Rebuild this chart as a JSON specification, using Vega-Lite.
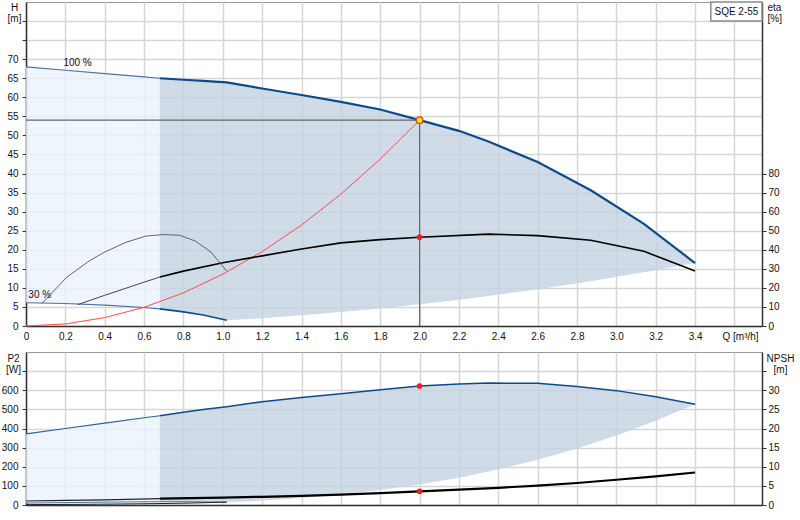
{
  "$schema": "https://vega.github.io/schema/vega-lite/v6.json",
  "padding": 0,
  "background": "white",
  "spacing": 26,
  "bounds": "flush",
  "datasets": {
    "h": [
      {"Q": 0, "top": 68.0, "bot": 6.1},
      {"Q": 0.2, "top": 67.1, "bot": 5.9},
      {"Q": 0.4, "top": 66.2, "bot": 5.5},
      {"Q": 0.6, "top": 65.35, "bot": 4.85},
      {"Q": 0.68, "top": 65.0, "bot": 4.5},
      {"Q": 0.8, "top": 64.6, "bot": 3.7},
      {"Q": 0.9, "top": 64.3, "bot": 2.9},
      {"Q": 1.02, "top": 63.9, "bot": 1.5},
      {"Q": 1.2, "top": 62.3, "bot": 2.05},
      {"Q": 1.4, "top": 60.6, "bot": 2.8},
      {"Q": 1.6, "top": 58.8, "bot": 3.65},
      {"Q": 1.8, "top": 56.8, "bot": 4.6},
      {"Q": 2.0, "top": 54.0, "bot": 5.7},
      {"Q": 2.2, "top": 51.2, "bot": 6.9},
      {"Q": 2.35, "top": 48.4, "bot": 7.9},
      {"Q": 2.6, "top": 43.0, "bot": 9.65},
      {"Q": 2.87, "top": 35.6, "bot": 11.75},
      {"Q": 3.14, "top": 26.8, "bot": 14.1},
      {"Q": 3.4, "top": 16.5, "bot": 16.5}
    ],
    "sys": [
      {"Q": 0, "H": 0}, {"Q": 0.2, "H": 0.54}, {"Q": 0.4, "H": 2.2},
      {"Q": 0.6, "H": 4.9}, {"Q": 0.8, "H": 8.7}, {"Q": 1.0, "H": 13.6},
      {"Q": 1.2, "H": 19.5}, {"Q": 1.4, "H": 26.5}, {"Q": 1.6, "H": 34.6},
      {"Q": 1.8, "H": 43.8}, {"Q": 2.0, "H": 54.0}
    ],
    "eta": [
      {"curve": "100", "Q": 0.263, "eta": 11.2},
      {"curve": "100", "Q": 0.4, "eta": 16.1},
      {"curve": "100", "Q": 0.6, "eta": 23.0},
      {"curve": "100", "Q": 0.68, "eta": 25.7},
      {"curve": "100", "Q": 0.8, "eta": 28.8},
      {"curve": "100", "Q": 1.0, "eta": 33.2},
      {"curve": "100", "Q": 1.2, "eta": 36.8},
      {"curve": "100", "Q": 1.4, "eta": 40.4},
      {"curve": "100", "Q": 1.6, "eta": 43.6},
      {"curve": "100", "Q": 1.8, "eta": 45.3},
      {"curve": "100", "Q": 2.0, "eta": 46.6},
      {"curve": "100", "Q": 2.35, "eta": 48.2},
      {"curve": "100", "Q": 2.6, "eta": 47.4},
      {"curve": "100", "Q": 2.87, "eta": 45.0},
      {"curve": "100", "Q": 3.14, "eta": 39.2},
      {"curve": "100", "Q": 3.4, "eta": 28.8},
      {"curve": "30", "Q": 0.08, "eta": 11.7},
      {"curve": "30", "Q": 0.12, "eta": 16.1},
      {"curve": "30", "Q": 0.207, "eta": 25.6},
      {"curve": "30", "Q": 0.325, "eta": 34.4},
      {"curve": "30", "Q": 0.4, "eta": 38.8},
      {"curve": "30", "Q": 0.51, "eta": 44.0},
      {"curve": "30", "Q": 0.61, "eta": 47.2},
      {"curve": "30", "Q": 0.7, "eta": 48.0},
      {"curve": "30", "Q": 0.78, "eta": 47.6},
      {"curve": "30", "Q": 0.86, "eta": 44.6},
      {"curve": "30", "Q": 0.94, "eta": 38.8},
      {"curve": "30", "Q": 1.02, "eta": 28.8}
    ],
    "pw": [
      {"Q": 0, "top": 372, "bot": 10},
      {"Q": 0.2, "top": 400, "bot": 12.6},
      {"Q": 0.4, "top": 428, "bot": 15},
      {"Q": 0.6, "top": 456, "bot": 16.8},
      {"Q": 0.68, "top": 467, "bot": 17.1},
      {"Q": 0.8, "top": 485, "bot": 17.1},
      {"Q": 0.9, "top": 499, "bot": 16.1},
      {"Q": 1.02, "top": 514, "bot": 14.2},
      {"Q": 1.2, "top": 540, "bot": 23},
      {"Q": 1.4, "top": 562, "bot": 37},
      {"Q": 1.6, "top": 582, "bot": 55},
      {"Q": 1.8, "top": 603, "bot": 78},
      {"Q": 2.0, "top": 622, "bot": 107},
      {"Q": 2.2, "top": 633, "bot": 143},
      {"Q": 2.35, "top": 638, "bot": 175},
      {"Q": 2.6, "top": 636, "bot": 236},
      {"Q": 2.8, "top": 620, "bot": 295},
      {"Q": 3.0, "top": 598, "bot": 363},
      {"Q": 3.2, "top": 566, "bot": 440},
      {"Q": 3.4, "top": 527, "bot": 527}
    ],
    "npsh": [
      {"curve": "100", "Q": 0, "NPSH": 1.05},
      {"curve": "100", "Q": 0.2, "NPSH": 1.2},
      {"curve": "100", "Q": 0.4, "NPSH": 1.35},
      {"curve": "100", "Q": 0.68, "NPSH": 1.65},
      {"curve": "100", "Q": 1.0, "NPSH": 1.95},
      {"curve": "100", "Q": 1.2, "NPSH": 2.15},
      {"curve": "100", "Q": 1.4, "NPSH": 2.4},
      {"curve": "100", "Q": 1.6, "NPSH": 2.7},
      {"curve": "100", "Q": 1.8, "NPSH": 3.1},
      {"curve": "100", "Q": 2.0, "NPSH": 3.55},
      {"curve": "100", "Q": 2.2, "NPSH": 4.0},
      {"curve": "100", "Q": 2.4, "NPSH": 4.5},
      {"curve": "100", "Q": 2.6, "NPSH": 5.05},
      {"curve": "100", "Q": 2.8, "NPSH": 5.75},
      {"curve": "100", "Q": 3.0, "NPSH": 6.6},
      {"curve": "100", "Q": 3.2, "NPSH": 7.5},
      {"curve": "100", "Q": 3.4, "NPSH": 8.5},
      {"curve": "30", "Q": 0, "NPSH": 0.1},
      {"curve": "30", "Q": 0.3, "NPSH": 0.18},
      {"curve": "30", "Q": 0.6, "NPSH": 0.32},
      {"curve": "30", "Q": 0.8, "NPSH": 0.47},
      {"curve": "30", "Q": 0.9, "NPSH": 0.59},
      {"curve": "30", "Q": 1.02, "NPSH": 0.77}
    ],
    "duty": [{"Q": 2.0, "Q0": 0, "H": 54.0, "H0": 0, "eta": 46.6, "P2": 622, "NPSH": 3.6}],
    "lbl": [
      {"Q": 0.19, "H": 69.1, "text": "100 %"},
      {"Q": 0.012, "H": 8.05, "text": "30 %"}
    ],
    "box": [{"Q": 3.48, "Q2": 3.74, "H": 80, "H2": 85, "Qc": 3.61, "Hc": 82.5, "text": "SQE 2-55"}]
  },
  "vconcat": [
    {
      "width": 736,
      "height": 324,
      "resolve": {"scale": {"y": "independent"}},
      "layer": [
        {
          "layer": [
            {
              "data": {"name": "h"},
              "transform": [{"filter": "datum.Q <= 0.68"}],
              "mark": {"type": "area", "color": "#eaf2fc", "opacity": 0.8},
              "encoding": {
                "x": {
                  "field": "Q", "type": "quantitative",
                  "scale": {"domain": [0, 3.74], "nice": false, "zero": false},
                  "axis": {
                    "values": [0, 0.2, 0.4, 0.6, 0.8, 1.0, 1.2, 1.4, 1.6, 1.8, 2.0, 2.2, 2.4, 2.6, 2.8, 3.0, 3.2, 3.4, 3.6],
                    "tickCount": 100,
                    "labelExpr": "datum.value > 3.5 ? '' : (datum.value == 0 ? '0' : format(datum.value, '.1f'))",
                    "labelOverlap": false,
                    "ticks": false,
                    "labelPadding": 5,
                    "title": "Q [m³/h]",
                    "titleX": 696,
                    "titleY": 5,
                    "titleAlign": "left",
                    "titleBaseline": "top"
                  }
                },
                "y": {
                  "field": "top", "type": "quantitative",
                  "scale": {"domain": [0, 85], "nice": false},
                  "axis": {
                    "orient": "left",
                    "values": [0, 5, 10, 15, 20, 25, 30, 35, 40, 45, 50, 55, 60, 65, 70, 75, 80],
                    "tickCount": 100,
                    "labelExpr": "datum.value > 72 ? '' : format(datum.value, 'd')",
                    "labelOverlap": false,
                    "title": ["H", "[m]"],
                    "titleAngle": 0,
                    "titleAlign": "center",
                    "titleBaseline": "top",
                    "titleX": -12,
                    "titleY": 0
                  }
                },
                "y2": {"field": "bot"}
              }
            },
            {
              "data": {"name": "h"},
              "transform": [{"filter": "datum.Q >= 0.68"}],
              "mark": {"type": "area", "color": "#c3d2e0", "opacity": 0.8},
              "encoding": {
                "x": {"field": "Q", "type": "quantitative"},
                "y": {"field": "top", "type": "quantitative"},
                "y2": {"field": "bot"}
              }
            },
            {
              "data": {"name": "h"},
              "transform": [{"filter": "datum.Q <= 0.68"}],
              "mark": {"type": "line", "color": "#4a72a6", "strokeWidth": 1.2},
              "encoding": {
                "x": {"field": "Q", "type": "quantitative"},
                "y": {"field": "top", "type": "quantitative"}
              }
            },
            {
              "data": {"name": "h"},
              "transform": [{"filter": "datum.Q >= 0.68"}],
              "mark": {"type": "line", "color": "#0d4a8c", "strokeWidth": 2.2},
              "encoding": {
                "x": {"field": "Q", "type": "quantitative"},
                "y": {"field": "top", "type": "quantitative"}
              }
            },
            {
              "data": {"name": "h"},
              "transform": [{"filter": "datum.Q <= 0.68"}],
              "mark": {"type": "line", "color": "#4a72a6", "strokeWidth": 1.2},
              "encoding": {
                "x": {"field": "Q", "type": "quantitative"},
                "y": {"field": "bot", "type": "quantitative"}
              }
            },
            {
              "data": {"name": "h"},
              "transform": [{"filter": "datum.Q >= 0.68 && datum.Q <= 1.02"}],
              "mark": {"type": "line", "color": "#0d4a8c", "strokeWidth": 1.6},
              "encoding": {
                "x": {"field": "Q", "type": "quantitative"},
                "y": {"field": "bot", "type": "quantitative"}
              }
            },
            {
              "data": {"name": "sys"},
              "mark": {"type": "line", "color": "#ff4a4a", "strokeWidth": 1},
              "encoding": {
                "x": {"field": "Q", "type": "quantitative"},
                "y": {"field": "H", "type": "quantitative"}
              }
            },
            {
              "data": {"name": "duty"},
              "mark": {"type": "rule", "color": "#666666", "strokeWidth": 1.2},
              "encoding": {
                "x": {"field": "Q0", "type": "quantitative"},
                "x2": {"field": "Q"},
                "y": {"field": "H", "type": "quantitative"}
              }
            },
            {
              "data": {"name": "duty"},
              "mark": {"type": "rule", "color": "#666666", "strokeWidth": 1.2},
              "encoding": {
                "x": {"field": "Q", "type": "quantitative"},
                "y": {"field": "H", "type": "quantitative"},
                "y2": {"field": "H0"}
              }
            },
            {
              "data": {"name": "duty"},
              "mark": {"type": "circle", "fill": "#ffe600", "stroke": "#e3392b", "strokeWidth": 1.2, "size": 45, "opacity": 1},
              "encoding": {
                "x": {"field": "Q", "type": "quantitative"},
                "y": {"field": "H", "type": "quantitative"}
              }
            },
            {
              "data": {"name": "lbl"},
              "mark": {"type": "text", "align": "left", "baseline": "middle", "fontSize": 10, "color": "#111"},
              "encoding": {
                "x": {"field": "Q", "type": "quantitative"},
                "y": {"field": "H", "type": "quantitative"},
                "text": {"field": "text"}
              }
            },
            {
              "data": {"name": "box"},
              "mark": {"type": "rect", "fill": "white", "stroke": "#8a8a8a", "strokeWidth": 1.5},
              "encoding": {
                "x": {"field": "Q", "type": "quantitative"},
                "x2": {"field": "Q2"},
                "y": {"field": "H", "type": "quantitative"},
                "y2": {"field": "H2"}
              }
            },
            {
              "data": {"name": "box"},
              "mark": {"type": "text", "align": "center", "baseline": "middle", "fontSize": 10, "color": "#111"},
              "encoding": {
                "x": {"field": "Qc", "type": "quantitative"},
                "y": {"field": "Hc", "type": "quantitative"},
                "text": {"field": "text"}
              }
            }
          ]
        },
        {
          "layer": [
            {
              "data": {"name": "eta"},
              "transform": [{"filter": "datum.curve == '100' && datum.Q <= 0.68"}],
              "mark": {"type": "line", "color": "#444444", "strokeWidth": 1},
              "encoding": {
                "x": {"field": "Q", "type": "quantitative"},
                "y": {
                  "field": "eta", "type": "quantitative",
                  "scale": {"domain": [0, 170], "nice": false},
                  "axis": {
                    "orient": "right",
                    "grid": false,
                    "values": [0, 10, 20, 30, 40, 50, 60, 70, 80],
                    "tickCount": 100,
                    "labelOverlap": false,
                    "labelPadding": 2,
                    "title": ["eta", "[%]"],
                    "titleAngle": 0,
                    "titleAlign": "left",
                    "titleBaseline": "top",
                    "titleX": 5,
                    "titleY": 0
                  }
                }
              }
            },
            {
              "data": {"name": "eta"},
              "transform": [{"filter": "datum.curve == '100' && datum.Q >= 0.68"}],
              "mark": {"type": "line", "color": "#000000", "strokeWidth": 1.6},
              "encoding": {
                "x": {"field": "Q", "type": "quantitative"},
                "y": {"field": "eta", "type": "quantitative"}
              }
            },
            {
              "data": {"name": "eta"},
              "transform": [{"filter": "datum.curve == '30'"}],
              "mark": {"type": "line", "color": "#555555", "strokeWidth": 0.9},
              "encoding": {
                "x": {"field": "Q", "type": "quantitative"},
                "y": {"field": "eta", "type": "quantitative"}
              }
            },
            {
              "data": {"name": "duty"},
              "mark": {"type": "circle", "color": "#ff1a1a", "size": 32, "opacity": 1},
              "encoding": {
                "x": {"field": "Q", "type": "quantitative"},
                "y": {"field": "eta", "type": "quantitative"}
              }
            }
          ]
        }
      ]
    },
    {
      "width": 736,
      "height": 153,
      "resolve": {"scale": {"y": "independent"}},
      "layer": [
        {
          "layer": [
            {
              "data": {"name": "pw"},
              "transform": [{"filter": "datum.Q <= 0.68"}],
              "mark": {"type": "area", "color": "#eaf2fc", "opacity": 0.8},
              "encoding": {
                "x": {
                  "field": "Q", "type": "quantitative",
                  "scale": {"domain": [0, 3.74], "nice": false, "zero": false},
                  "axis": {
                    "values": [0, 0.2, 0.4, 0.6, 0.8, 1.0, 1.2, 1.4, 1.6, 1.8, 2.0, 2.2, 2.4, 2.6, 2.8, 3.0, 3.2, 3.4, 3.6],
                    "tickCount": 100,
                    "labels": false,
                    "ticks": false,
                    "title": null
                  }
                },
                "y": {
                  "field": "top", "type": "quantitative",
                  "scale": {"domain": [0, 800], "nice": false},
                  "axis": {
                    "orient": "left",
                    "values": [0, 100, 200, 300, 400, 500, 600, 700],
                    "tickCount": 100,
                    "labelExpr": "datum.value > 650 ? '' : format(datum.value, 'd')",
                    "labelOverlap": false,
                    "title": ["P2", "[W]"],
                    "titleAngle": 0,
                    "titleAlign": "center",
                    "titleBaseline": "top",
                    "titleX": -13,
                    "titleY": 1
                  }
                },
                "y2": {"field": "bot"}
              }
            },
            {
              "data": {"name": "pw"},
              "transform": [{"filter": "datum.Q >= 0.68"}],
              "mark": {"type": "area", "color": "#c3d2e0", "opacity": 0.8},
              "encoding": {
                "x": {"field": "Q", "type": "quantitative"},
                "y": {"field": "top", "type": "quantitative"},
                "y2": {"field": "bot"}
              }
            },
            {
              "data": {"name": "pw"},
              "transform": [{"filter": "datum.Q <= 0.68"}],
              "mark": {"type": "line", "color": "#2a5f9e", "strokeWidth": 1.1},
              "encoding": {
                "x": {"field": "Q", "type": "quantitative"},
                "y": {"field": "top", "type": "quantitative"}
              }
            },
            {
              "data": {"name": "pw"},
              "transform": [{"filter": "datum.Q >= 0.68"}],
              "mark": {"type": "line", "color": "#0d4a8c", "strokeWidth": 1.5},
              "encoding": {
                "x": {"field": "Q", "type": "quantitative"},
                "y": {"field": "top", "type": "quantitative"}
              }
            },
            {
              "data": {"name": "pw"},
              "transform": [{"filter": "datum.Q <= 1.02"}],
              "mark": {"type": "line", "color": "#4a72a6", "strokeWidth": 1},
              "encoding": {
                "x": {"field": "Q", "type": "quantitative"},
                "y": {"field": "bot", "type": "quantitative"}
              }
            },
            {
              "data": {"name": "duty"},
              "mark": {"type": "circle", "color": "#ff1a1a", "size": 32, "opacity": 1},
              "encoding": {
                "x": {"field": "Q", "type": "quantitative"},
                "y": {"field": "P2", "type": "quantitative"}
              }
            }
          ]
        },
        {
          "layer": [
            {
              "data": {"name": "npsh"},
              "transform": [{"filter": "datum.curve == '100' && datum.Q <= 0.68"}],
              "mark": {"type": "line", "color": "#222222", "strokeWidth": 1.2},
              "encoding": {
                "x": {"field": "Q", "type": "quantitative"},
                "y": {
                  "field": "NPSH", "type": "quantitative",
                  "scale": {"domain": [0, 40], "nice": false},
                  "axis": {
                    "orient": "right",
                    "grid": false,
                    "values": [0, 5, 10, 15, 20, 25, 30, 35],
                    "tickCount": 100,
                    "labelExpr": "datum.value > 32 ? '' : format(datum.value, 'd')",
                    "labelOverlap": false,
                    "labelPadding": 2,
                    "title": ["NPSH", "[m]"],
                    "titleAngle": 0,
                    "titleAlign": "center",
                    "titleBaseline": "top",
                    "titleX": 18,
                    "titleY": 1
                  }
                }
              }
            },
            {
              "data": {"name": "npsh"},
              "transform": [{"filter": "datum.curve == '100' && datum.Q >= 0.68"}],
              "mark": {"type": "line", "color": "#000000", "strokeWidth": 2.2},
              "encoding": {
                "x": {"field": "Q", "type": "quantitative"},
                "y": {"field": "NPSH", "type": "quantitative"}
              }
            },
            {
              "data": {"name": "npsh"},
              "transform": [{"filter": "datum.curve == '30'"}],
              "mark": {"type": "line", "color": "#222222", "strokeWidth": 1},
              "encoding": {
                "x": {"field": "Q", "type": "quantitative"},
                "y": {"field": "NPSH", "type": "quantitative"}
              }
            },
            {
              "data": {"name": "duty"},
              "mark": {"type": "circle", "color": "#ff1a1a", "size": 32, "opacity": 1},
              "encoding": {
                "x": {"field": "Q", "type": "quantitative"},
                "y": {"field": "NPSH", "type": "quantitative"}
              }
            }
          ]
        }
      ]
    }
  ],
  "config": {
    "font": "Liberation Sans",
    "view": {"stroke": "#9a9a9a", "strokeWidth": 1},
    "axis": {
      "labelFont": "Liberation Sans",
      "labelFontSize": 10,
      "labelColor": "#111111",
      "titleFont": "Liberation Sans",
      "titleFontSize": 10,
      "titleFontWeight": "normal",
      "titleColor": "#111111",
      "titleLineHeight": 11,
      "gridColor": "#d6d6d6",
      "gridWidth": 1.5,
      "domainColor": "#333333",
      "domainWidth": 1.5,
      "tickColor": "#333333",
      "tickSize": 4,
      "labelPadding": 4,
      "labelFlush": false,
      "labelOverlap": false
    },
    "text": {"font": "Liberation Sans", "fontSize": 10}
  }
}
